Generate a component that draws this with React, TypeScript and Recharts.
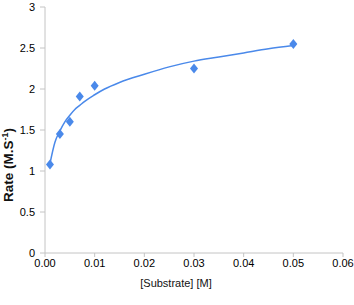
import { ComposedChart, Line, Scatter, XAxis, YAxis } from "recharts";

// measured points
const substrate = [0.001, 0.003, 0.005, 0.007, 0.01, 0.03, 0.05];
const rate = [1.08, 1.45, 1.6, 1.91, 2.04, 2.25, 2.55];

// trendline
const fitX = [0.001, 0.002, 0.003, 0.004, 0.005, 0.006, 0.007, 0.008, 0.01, 0.012, 0.015, 0.02, 0.025, 0.03, 0.035, 0.04, 0.045, 0.05];
const fitY = [1.09, 1.35, 1.49, 1.6, 1.68, 1.75, 1.8, 1.85, 1.93, 2.0, 2.08, 2.18, 2.27, 2.34, 2.39, 2.44, 2.49, 2.53];

const xTicks = [0, 0.01, 0.02, 0.03, 0.04, 0.05, 0.06];
const yTicks = [0, 0.5, 1, 1.5, 2, 2.5, 3];

const points = substrate.map((x, i) => ({ x, y: rate[i] }));
const fit = fitX.map((x, i) => ({ x, y: fitY[i] }));

const BLUE = "#4a89ea";
const FONT = "'Liberation Sans Narrow', 'Liberation Sans', sans-serif";

function Diamond(props: any) {
  const { cx, cy } = props;
  if (cx == null || cy == null) return null;
  return (
    <polygon
      points={`${cx},${cy - 5} ${cx + 4},${cy} ${cx},${cy + 5} ${cx - 4},${cy}`}
      fill={BLUE}
    />
  );
}

export default function App() {
  const tick = { fill: "#000", fontSize: 11, fontFamily: FONT };
  return (
    <div style={{ position: "absolute", left: 0, top: 0, width: 354, height: 305, background: "#fff" }}>
      <ComposedChart width={354} height={305} margin={{ top: 7, right: 11, left: 0, bottom: 0 }}>
        <XAxis
          type="number"
          dataKey="x"
          domain={[0, 0.06]}
          ticks={xTicks}
          tickFormatter={(v: number) => v.toFixed(2)}
          stroke="#c4c4c4"
          tickSize={4}
          tickMargin={2}
          tick={tick}
          height={52}
          allowDuplicatedCategory={false}
        />
        <YAxis
          type="number"
          dataKey="y"
          domain={[0, 3]}
          ticks={yTicks}
          stroke="#c4c4c4"
          tickSize={5}
          tickMargin={5}
          tick={tick}
          width={45}
        />
        <Line
          data={fit}
          dataKey="y"
          type="monotone"
          stroke={BLUE}
          strokeWidth={1.5}
          dot={false}
          isAnimationActive={false}
        />
        <Scatter data={points} dataKey="y" shape={<Diamond />} isAnimationActive={false} />
      </ComposedChart>
      <div
        style={{
          position: "absolute",
          left: 8,
          top: 165,
          transform: "translate(-50%, -50%) rotate(-90deg)",
          whiteSpace: "nowrap",
          fontFamily: FONT,
          fontWeight: "bold",
          fontSize: 13.5,
          color: "#111",
        }}
      >
        Rate (M.S<sup style={{ fontSize: 9 }}>-1</sup>)
      </div>
      <div
        style={{
          position: "absolute",
          left: 176,
          top: 283,
          transform: "translate(-50%, -50%)",
          whiteSpace: "nowrap",
          fontFamily: FONT,
          fontSize: 11,
          color: "#111",
        }}
      >
        [Substrate] [M]
      </div>
    </div>
  );
}
